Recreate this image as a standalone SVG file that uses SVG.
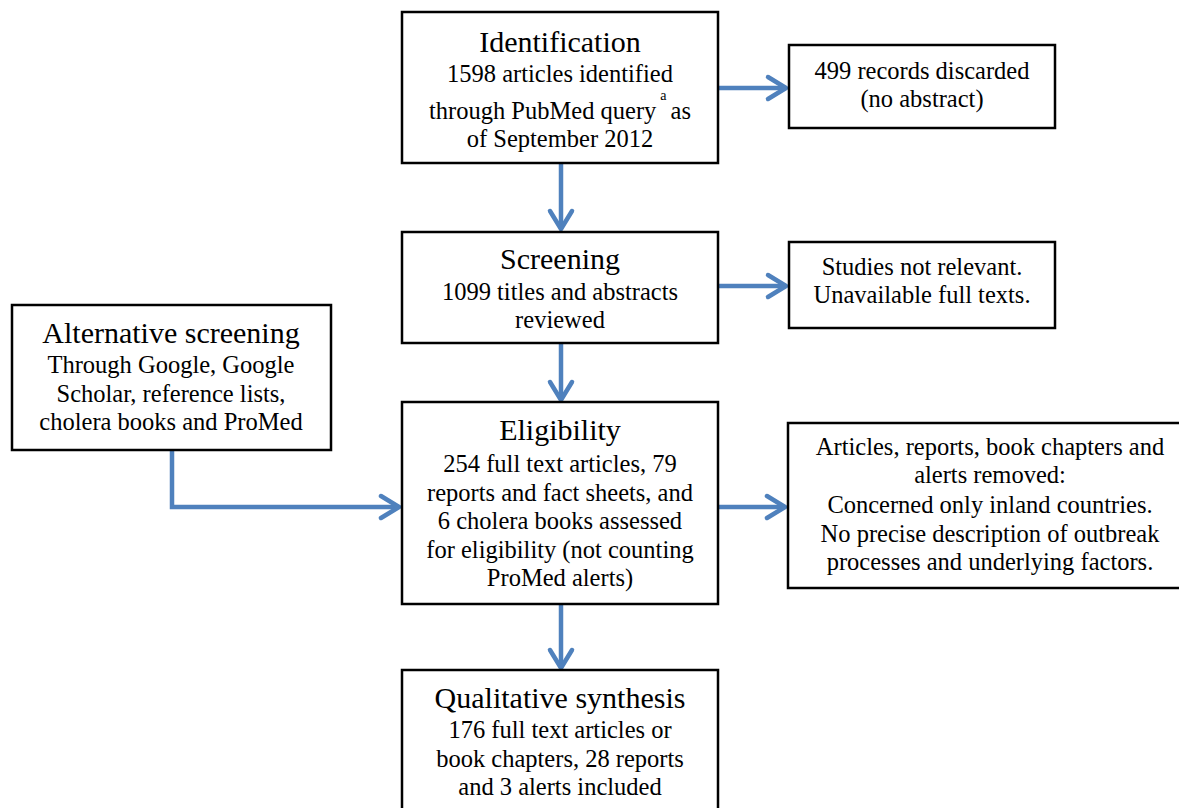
<svg xmlns="http://www.w3.org/2000/svg" width="1179" height="808" viewBox="0 0 1179 808">
<defs>
<style>
.box{fill:#fff;stroke:#000;stroke-width:2.5}
.t{font-family:"Liberation Serif","Times New Roman",serif;fill:#000;text-anchor:middle}
.h{font-size:30px}
.b{font-size:24.5px}
.c{fill:none;stroke:#4f81bd;stroke-width:4.5}
</style>
<marker id="ah" markerUnits="userSpaceOnUse" markerWidth="30" markerHeight="30" viewBox="-25 -15 30 30" refX="0" refY="0" orient="auto">
<path d="M-18,-11 L0,0 L-18,11" fill="none" stroke="#4f81bd" stroke-width="4.5" stroke-linecap="round" stroke-linejoin="round"/>
</marker>
</defs>
<rect width="1179" height="808" fill="#fff"/>
<g id="connectors">
<line class="c" x1="718" y1="88" x2="786" y2="88" marker-end="url(#ah)"/>
<line class="c" x1="561" y1="163" x2="561" y2="229" marker-end="url(#ah)"/>
<line class="c" x1="718" y1="286" x2="786" y2="286" marker-end="url(#ah)"/>
<line class="c" x1="561" y1="343" x2="561" y2="400" marker-end="url(#ah)"/>
<polyline class="c" points="172,450 172,507 399,507" marker-end="url(#ah)"/>
<line class="c" x1="718" y1="507" x2="785" y2="507" marker-end="url(#ah)"/>
<line class="c" x1="561" y1="604" x2="561" y2="668" marker-end="url(#ah)"/>
</g>
<g id="identification">
<rect class="box" x="402" y="12" width="316" height="151"/>
<text class="t h" x="560" y="52">Identification</text>
<text class="t b" x="560" y="82">1598 articles identified</text>
<text class="t b" x="560" y="119">through PubMed query<tspan font-size="14" dy="-19" dx="4">a</tspan><tspan dy="19" dx="4">as</tspan></text>
<text class="t b" x="560" y="147">of September 2012</text>
</g>
<g id="discarded">
<rect class="box" x="789" y="45" width="266" height="83"/>
<text class="t b" x="922" y="79">499 records discarded</text>
<text class="t b" x="922" y="107">(no abstract)</text>
</g>
<g id="screening">
<rect class="box" x="402" y="232" width="316" height="111"/>
<text class="t h" x="560" y="269">Screening</text>
<text class="t b" x="560" y="300">1099 titles and abstracts</text>
<text class="t b" x="560" y="328">reviewed</text>
</g>
<g id="not-relevant">
<rect class="box" x="789" y="242" width="266" height="86"/>
<text class="t b" x="922" y="275">Studies not relevant.</text>
<text class="t b" x="922" y="303">Unavailable full texts.</text>
</g>
<g id="alternative">
<rect class="box" x="12" y="305" width="319" height="145"/>
<text class="t h" x="171" y="343">Alternative screening</text>
<text class="t b" x="171" y="373">Through Google, Google</text>
<text class="t b" x="171" y="402">Scholar, reference lists,</text>
<text class="t b" x="171" y="430">cholera books and ProMed</text>
</g>
<g id="eligibility">
<rect class="box" x="402" y="402" width="316" height="202"/>
<text class="t h" x="560" y="440">Eligibility</text>
<text class="t b" x="560" y="472">254 full text articles, 79</text>
<text class="t b" x="560" y="501">reports and fact sheets, and</text>
<text class="t b" x="560" y="529">6 cholera books assessed</text>
<text class="t b" x="560" y="558">for eligibility (not counting</text>
<text class="t b" x="560" y="586">ProMed alerts)</text>
</g>
<g id="removed">
<rect class="box" x="788" y="423" width="402" height="165"/>
<text class="t b" x="990" y="455">Articles, reports, book chapters and</text>
<text class="t b" x="990" y="483">alerts removed:</text>
<text class="t b" x="990" y="513">Concerned only inland countries.</text>
<text class="t b" x="990" y="542">No precise description of outbreak</text>
<text class="t b" x="990" y="570">processes and underlying factors.</text>
</g>
<g id="qualitative">
<rect class="box" x="402" y="670" width="316" height="146"/>
<text class="t h" x="560" y="708">Qualitative synthesis</text>
<text class="t b" x="560" y="738">176 full text articles or</text>
<text class="t b" x="560" y="767">book chapters, 28 reports</text>
<text class="t b" x="560" y="795">and 3 alerts included</text>
</g>
</svg>
